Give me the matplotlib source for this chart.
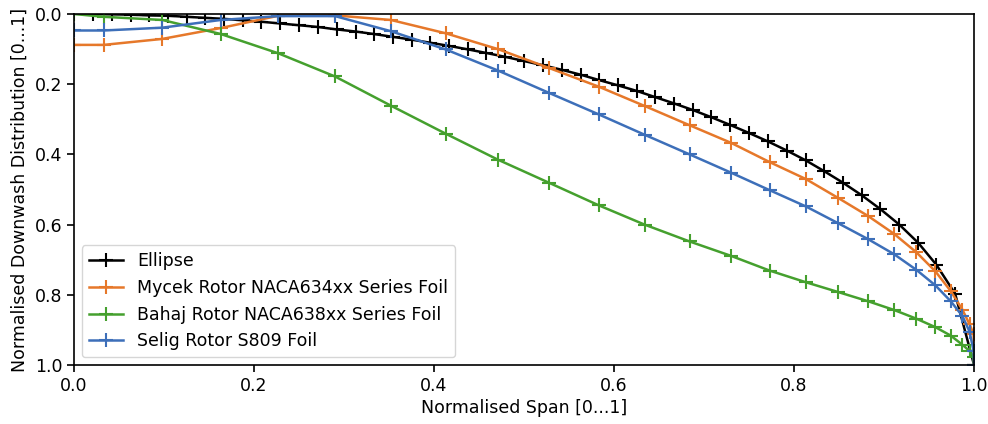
import matplotlib
matplotlib.use("Agg")
import matplotlib.pyplot as plt

# Ellipse reference
ellipse_x = [0.021, 0.042, 0.063, 0.083, 0.104, 0.125, 0.146, 0.167, 0.188, 0.208,
             0.229, 0.250, 0.271, 0.292, 0.313, 0.333, 0.354, 0.375, 0.396, 0.417,
             0.438, 0.458, 0.479, 0.500, 0.521, 0.542, 0.563, 0.583, 0.604, 0.625,
             0.646, 0.667, 0.688, 0.708, 0.729, 0.750, 0.771, 0.792, 0.813, 0.833,
             0.854, 0.875, 0.896, 0.917, 0.938, 0.958, 0.979, 1.000]
ellipse_y = [0.000, 0.001, 0.002, 0.004, 0.005, 0.008, 0.011, 0.014, 0.018, 0.022,
             0.027, 0.032, 0.037, 0.044, 0.050, 0.057, 0.065, 0.073, 0.082, 0.091,
             0.101, 0.111, 0.122, 0.134, 0.146, 0.159, 0.173, 0.188, 0.203, 0.219,
             0.237, 0.255, 0.274, 0.294, 0.316, 0.339, 0.363, 0.389, 0.417, 0.447,
             0.480, 0.516, 0.556, 0.600, 0.652, 0.714, 0.797, 1.000]

# Rotor blade stations (shared by the three rotor series)
rotor_x = [0.000, 0.033, 0.098, 0.163, 0.227, 0.290, 0.352, 0.413, 0.471, 0.528,
           0.583, 0.634, 0.684, 0.730, 0.773, 0.813, 0.849, 0.882, 0.911, 0.936,
           0.957, 0.974, 0.987, 0.995, 0.9995, 1.000]

mycek_y = [0.088, 0.088, 0.071, 0.040, 0.005, 0.004, 0.017, 0.055, 0.100, 0.154,
           0.207, 0.262, 0.317, 0.367, 0.422, 0.470, 0.524, 0.575, 0.626, 0.679,
           0.733, 0.789, 0.842, 0.884, 0.912, 1.000]

bahaj_y = [0.000, 0.008, 0.017, 0.057, 0.112, 0.178, 0.261, 0.341, 0.415, 0.481,
           0.545, 0.600, 0.648, 0.689, 0.731, 0.764, 0.792, 0.818, 0.843, 0.868,
           0.892, 0.916, 0.942, 0.960, 0.978, 1.000]

selig_y = [0.047, 0.047, 0.039, 0.017, 0.006, 0.006, 0.049, 0.101, 0.161, 0.225,
           0.286, 0.344, 0.400, 0.452, 0.502, 0.548, 0.596, 0.641, 0.684, 0.729,
           0.773, 0.818, 0.860, 0.905, 0.960, 1.000]

labels = ["Ellipse", "Mycek Rotor NACA634xx Series Foil",
          "Bahaj Rotor NACA638xx Series Foil", "Selig Rotor S809 Foil"]
colors = ["black", "#e6782a", "#45a02e", "#3d6fb9"]

fig = plt.figure(figsize=(9.88, 4.24), dpi=100)
ax = fig.add_axes([0.0749, 0.139, 0.911, 0.828])

ms = 10
mew = 1.5
lw = 1.8
ax.plot(ellipse_x, ellipse_y, color=colors[0], marker="+", ms=ms, mew=mew, lw=lw, label=labels[0])
ax.plot(rotor_x, mycek_y, color=colors[1], marker="+", ms=ms, mew=mew, lw=lw, label=labels[1])
ax.plot(rotor_x, bahaj_y, color=colors[2], marker="+", ms=ms, mew=mew, lw=lw, label=labels[2])
ax.plot(rotor_x, selig_y, color=colors[3], marker="+", ms=ms, mew=mew, lw=lw, label=labels[3])

ax.set_xlim(0, 1)
ax.set_ylim(1, 0)
ax.set_xticks([0.0, 0.2, 0.4, 0.6, 0.8, 1.0])
ax.set_yticks([0.0, 0.2, 0.4, 0.6, 0.8, 1.0])
ax.tick_params(labelsize=12.5, width=1.2, length=5)
for s in ax.spines.values():
    s.set_linewidth(1.2)
ax.set_xlabel("Normalised Span [0...1]", fontsize=12.5, labelpad=3)
ax.set_ylabel("Normalised Downwash Distribution [0...1]", fontsize=12.5, labelpad=4)
ax.legend(loc="lower left", fontsize=12.5, borderaxespad=0.45)

fig.savefig("out.png", dpi=100)
